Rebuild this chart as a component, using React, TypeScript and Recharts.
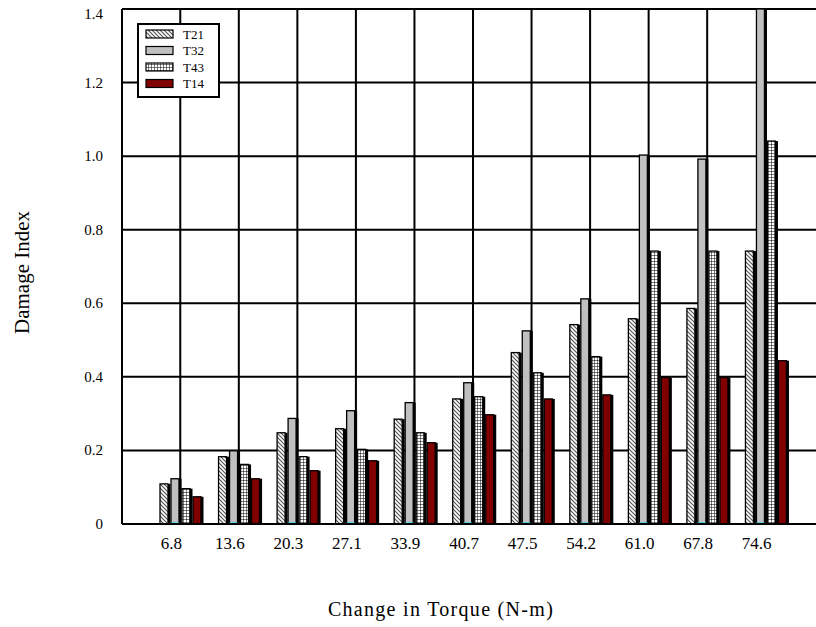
import { BarChart, Bar, XAxis, YAxis, CartesianGrid, Legend } from "recharts";

const TORQUE = ["6.8", "13.6", "20.3", "27.1", "33.9", "40.7", "47.5", "54.2", "61.0", "67.8", "74.6"];
const T21 = [0.109, 0.183, 0.248, 0.259, 0.285, 0.34, 0.466, 0.542, 0.558, 0.586, 0.742];
const T32 = [0.123, 0.199, 0.287, 0.308, 0.33, 0.384, 0.525, 0.612, 1.003, 0.992, 1.4];
const T43 = [0.096, 0.162, 0.183, 0.203, 0.248, 0.346, 0.411, 0.455, 0.742, 0.742, 1.041];
const T14 = [0.074, 0.123, 0.145, 0.172, 0.221, 0.297, 0.34, 0.351, 0.398, 0.398, 0.444];
const Y_TICKS = [0, 0.2, 0.4, 0.6, 0.8, 1.0, 1.2, 1.4];

const data = TORQUE.map((torque, i) => ({
  torque,
  T21: T21[i],
  T32: T32[i],
  T43: T43[i],
  T14: T14[i],
}));

const SERIES = [
  { key: "T21", fill: "url(#hatch)", legendFill: "url(#lg-hatch)", cyan: false },
  { key: "T32", fill: "#c0c0c0", legendFill: "#c0c0c0", cyan: true },
  { key: "T43", fill: "url(#grid)", legendFill: "url(#lg-grid)", cyan: false },
  { key: "T14", fill: "#800000", legendFill: "#800000", cyan: false },
];

const FONT = '"Liberation Serif", "Times New Roman", serif';

function Patterns({ prefix }: { prefix: string }) {
  return (
    <defs>
      <pattern id={prefix + "hatch"} width={4} height={4} patternUnits="userSpaceOnUse">
        <rect width={4} height={4} fill="#fff" />
        <path d="M-1,-1 L5,5 M3,-1 L5,1 M-1,3 L1,5" stroke="#555" strokeWidth={1.2} />
      </pattern>
      <pattern id={prefix + "grid"} width={3} height={3} patternUnits="userSpaceOnUse">
        <rect width={3} height={3} fill="#fff" />
        <path d="M0,0 L3,0 M0,0 L0,3" stroke="#000" strokeWidth={1} />
      </pattern>
    </defs>
  );
}

function makeShape(fill: string, cyan: boolean) {
  return (props: any) => {
    const { x, y, width, height } = props;
    if (!height || height <= 0) return <g />;
    return (
      <g>
        <rect x={x + 2.5} y={y} width={width} height={height} fill="#000" />
        <rect x={x} y={y} width={width} height={height} fill={fill} stroke="#000" strokeWidth={1.3} />
        {cyan && (
          <line x1={x} x2={x + width} y1={y + height - 0.8} y2={y + height - 0.8} stroke="#19d3f0" strokeWidth={1.6} />
        )}
      </g>
    );
  };
}

function XTick(props: any) {
  const { x, y, payload } = props;
  return (
    <text x={x - 9} y={y + 25} textAnchor="middle" fontSize={17} fontFamily={FONT} fill="#000">
      {payload.value}
    </text>
  );
}

function YTick(props: any) {
  const { x, y, payload, index } = props;
  const v = payload.value as number;
  const top = index === Y_TICKS.length - 1;
  return (
    <text x={x} y={y + (top ? 10 : 5)} textAnchor="end" fontSize={15} fontFamily={FONT} fill="#000">
      {v === 0 ? "0" : v.toFixed(1)}
    </text>
  );
}

function LegendBox() {
  return (
    <div
      style={{
        border: "2px solid #000",
        background: "#fff",
        width: 83,
        height: 75,
        boxSizing: "border-box",
      }}
    >
      <svg width={79} height={71} style={{ display: "block" }}>
        <Patterns prefix="lg-" />
        {SERIES.map((s, i) => (
          <g key={s.key}>
            <rect x={7} y={5 + i * 16.5} width={27} height={8} fill={s.legendFill} stroke="#000" strokeWidth={1.2} />
            <text x={44} y={13.5 + i * 16.5} fontSize={13} fontFamily={FONT} fill="#000">
              {s.key}
            </text>
          </g>
        ))}
      </svg>
    </div>
  );
}

export default function App() {
  return (
    <div
      style={{
        position: "absolute",
        left: 0,
        top: 0,
        width: 816,
        height: 627,
        overflow: "hidden",
        fontFamily: FONT,
        background: "#fff",
      }}
    >
      <BarChart
        width={838}
        height={627}
        data={data}
        margin={{ top: 9, right: 14, bottom: 0, left: 0 }}
        barSize={8}
        barGap={3}
      >
        <Patterns prefix="" />
        <CartesianGrid stroke="#000" strokeWidth={2} />
        <XAxis
          dataKey="torque"
          type="category"
          interval={0}
          padding={{ left: 29, right: 29 }}
          height={103}
          tickLine={false}
          tickSize={0}
          tickMargin={0}
          axisLine={{ stroke: "#000", strokeWidth: 2 }}
          tick={<XTick />}
          label={({ viewBox }: any) => (
            <text
              x={viewBox.x + viewBox.width / 2 - 32}
              y={viewBox.y + viewBox.height - 11}
              textAnchor="middle"
              fontSize={20}
              fontFamily={FONT}
              letterSpacing={1.3}
              fill="#000"
            >
              Change in Torque (N-m)
            </text>
          )}
        />
        <YAxis
          domain={[0, 1.4]}
          ticks={Y_TICKS}
          interval={0}
          allowDataOverflow
          width={122}
          tickLine={false}
          tickSize={0}
          tickMargin={19}
          axisLine={{ stroke: "#000", strokeWidth: 2 }}
          tick={<YTick />}
          label={({ viewBox }: any) => {
            const cx = viewBox.x + 22;
            const cy = viewBox.y + viewBox.height / 2 + 6;
            return (
              <text
                x={cx}
                y={cy}
                transform={`rotate(-90, ${cx}, ${cy})`}
                textAnchor="middle"
                dominantBaseline="central"
                fontSize={21}
                fontFamily={FONT}
                fill="#000"
              >
                Damage Index
              </text>
            );
          }}
        />
        <Legend
          layout="vertical"
          align="center"
          verticalAlign="middle"
          wrapperStyle={{ left: 137, top: 23, width: 83, height: 75 }}
          content={() => <LegendBox />}
        />
        {SERIES.map((s) => (
          <Bar
            key={s.key}
            dataKey={s.key}
            name={s.key}
            fill={s.fill}
            isAnimationActive={false}
            shape={makeShape(s.fill, s.cyan)}
          />
        ))}
      </BarChart>
    </div>
  );
}
